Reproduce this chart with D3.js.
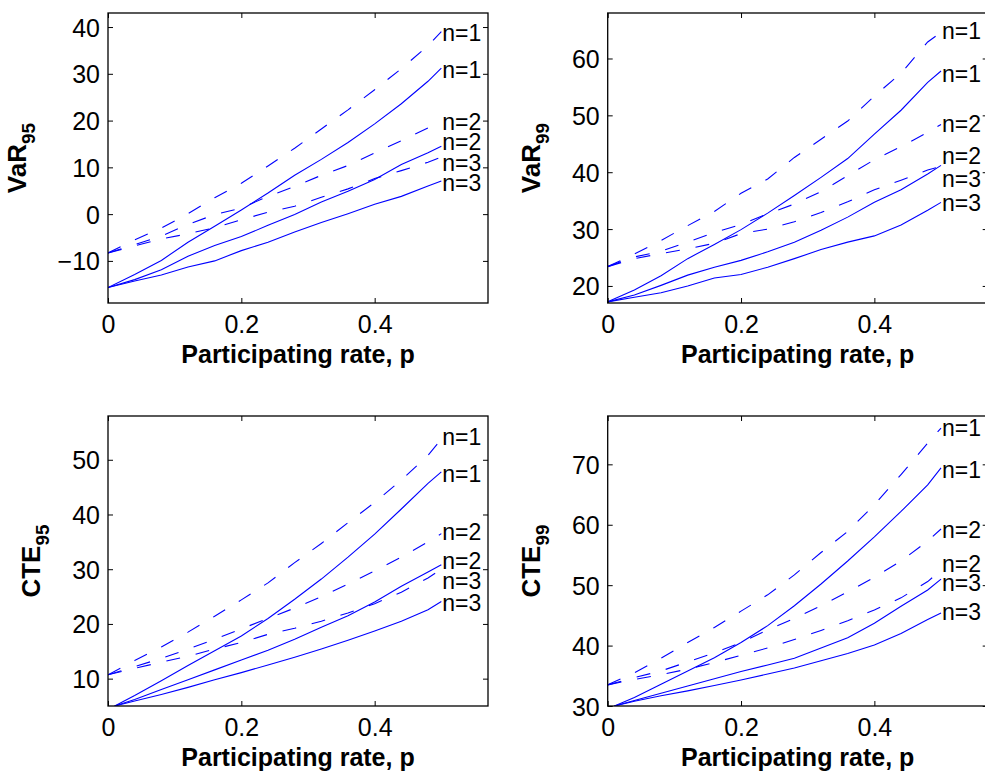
<!DOCTYPE html>
<html>
<head>
<meta charset="utf-8">
<script src="https://cdn.jsdelivr.net/npm/d3@7"></script>
<style>
  body { margin: 0; background: #fff; }
  svg { display: block; font-family: "Liberation Sans", Arial, Helvetica, sans-serif; }
</style>
</head>
<body>
<svg id="chart" width="985" height="778"></svg>
<script>
// participating rate grid (solid CTE curves start at p = 0.01)
var pGrid = [0, 0.04, 0.08, 0.12, 0.16, 0.2, 0.24, 0.28, 0.32, 0.36, 0.4, 0.44, 0.48, 0.5];
var pGridCte = [0.01, 0.04, 0.08, 0.12, 0.16, 0.2, 0.24, 0.28, 0.32, 0.36, 0.4, 0.44, 0.48, 0.5];
var xTicks = [0, 0.2, 0.4];

// VaR 95
var var95Dash1 = [-8.3, -5.5, -3.0, 0.1, 3.5, 6.6, 10.3, 14.1, 18.2, 22.3, 26.6, 31.1, 36.0, 39.0];
var var95Solid1 = [-15.7, -12.9, -9.9, -6.0, -2.6, 0.9, 4.5, 8.3, 11.7, 15.3, 19.3, 23.6, 28.4, 31.2];
var var95Dash2 = [-8.3, -6.5, -4.7, -2.2, -0.1, 1.3, 3.8, 5.9, 8.3, 10.4, 13.1, 15.7, 18.4, 19.7];
var var95Solid2 = [-15.7, -14.0, -11.9, -9.0, -6.7, -4.8, -2.4, -0.1, 2.6, 4.9, 7.4, 10.6, 13.1, 14.5];
var var95Dash3 = [-8.3, -6.8, -5.3, -4.2, -2.9, -1.2, 0.4, 1.7, 3.6, 5.4, 7.6, 9.3, 11.1, 12.2];
var var95Solid3 = [-15.7, -14.3, -13.0, -11.3, -10.0, -7.8, -6.0, -3.8, -1.8, 0.1, 2.1, 3.8, 6.0, 7.1];
var var95Ticks = [-10, 0, 10, 20, 30, 40];
var var95LabelY = [38.8, 30.9, 19.7, 15.4, 11.0, 6.7];

// VaR 99
var var99Dash1 = [23.4, 25.6, 28.0, 30.6, 33.1, 36.3, 38.8, 42.6, 45.8, 49.0, 53.4, 57.4, 62.9, 64.6];
var var99Solid1 = [17.2, 19.3, 21.8, 24.8, 27.3, 29.9, 32.8, 35.9, 39.1, 42.4, 46.7, 50.9, 55.8, 57.8];
var var99Dash2 = [23.4, 25.1, 26.1, 27.7, 29.4, 30.8, 32.7, 34.4, 36.6, 39.4, 42.2, 44.5, 47.0, 48.4];
var var99Solid2 = [17.2, 18.4, 20.1, 21.9, 23.3, 24.5, 26.0, 27.7, 29.8, 32.1, 34.7, 36.9, 39.7, 41.2];
var var99Dash3 = [23.4, 24.8, 25.7, 26.5, 27.5, 29.2, 30.0, 31.3, 32.9, 34.8, 36.9, 38.6, 40.4, 41.0];
var var99Solid3 = [17.2, 18.0, 18.8, 20.0, 21.4, 22.0, 23.3, 24.8, 26.4, 27.7, 28.8, 30.7, 33.3, 34.7];
var var99Ticks = [20, 30, 40, 50, 60];
var var99LabelY = [64.9, 57.4, 48.5, 42.9, 38.8, 34.7];

// CTE 95
var cte95Dash1 = [10.7, 13.3, 15.8, 18.5, 21.4, 24.4, 27.5, 31.2, 34.7, 38.5, 42.2, 46.3, 50.8, 53.8];
var cte95Solid1 = [5.0, 6.9, 9.6, 12.4, 15.1, 17.8, 21.0, 24.5, 28.2, 32.2, 36.4, 41.0, 45.7, 47.8];
var cte95Dash2 = [10.7, 12.2, 13.7, 15.4, 17.2, 19.1, 21.0, 22.9, 25.0, 27.3, 29.7, 32.2, 35.0, 36.5];
var cte95Solid2 = [5.0, 6.2, 8.0, 9.8, 11.6, 13.4, 15.2, 17.2, 19.4, 21.5, 24.0, 26.9, 29.5, 30.8];
var cte95Dash3 = [10.7, 11.9, 13.0, 14.1, 15.4, 16.6, 18.1, 19.2, 20.5, 22.0, 23.7, 25.8, 28.4, 30.0];
var cte95Solid3 = [5.0, 5.9, 7.1, 8.4, 9.8, 11.1, 12.5, 13.9, 15.4, 17.0, 18.7, 20.5, 22.6, 24.1];
var cte95Ticks = [10, 20, 30, 40, 50];
var cte95LabelY = [54.2, 47.5, 36.8, 31.6, 27.9, 23.9];

// CTE 99
var cte99Dash1 = [33.5, 35.5, 37.9, 40.5, 43.0, 45.7, 48.4, 51.7, 55.4, 58.9, 63.3, 68.3, 73.5, 76.0];
var cte99Solid1 = [30.0, 31.4, 33.6, 35.8, 38.0, 40.5, 43.3, 46.6, 50.2, 54.0, 58.0, 62.2, 66.6, 69.4];
var cte99Dash2 = [33.5, 34.7, 35.8, 37.3, 38.8, 40.5, 42.6, 44.5, 46.6, 48.9, 51.3, 54.0, 57.3, 59.3];
var cte99Solid2 = [30.0, 30.9, 32.1, 33.3, 34.5, 35.7, 36.8, 37.9, 39.6, 41.3, 43.7, 46.5, 49.2, 51.0];
var cte99Dash3 = [33.5, 34.4, 35.2, 36.1, 37.2, 38.4, 39.6, 41.0, 42.5, 44.1, 45.9, 47.9, 50.6, 52.5];
var cte99Solid3 = [30.0, 30.8, 31.7, 32.5, 33.4, 34.3, 35.3, 36.3, 37.5, 38.7, 40.1, 42.0, 44.3, 45.4];
var cte99Ticks = [30, 40, 50, 60, 70];
var cte99LabelY = [76.0, 69.1, 59.2, 53.6, 50.4, 45.6];

var labelText = ['n=1', 'n=1', 'n=2', 'n=2', 'n=3', 'n=3'];

var panels = [
  { id: 'va95', left: 108, top: 13, yDomain: [-19, 43], yTicks: var95Ticks, name: 'VaR', sub: '95',
    dashed: [var95Dash1, var95Dash2, var95Dash3], solid: [var95Solid1, var95Solid2, var95Solid3],
    solidP: pGrid, labelY: var95LabelY },
  { id: 'va99', left: 607.7, top: 13, yDomain: [17, 68], yTicks: var99Ticks, name: 'VaR', sub: '99',
    dashed: [var99Dash1, var99Dash2, var99Dash3], solid: [var99Solid1, var99Solid2, var99Solid3],
    solidP: pGrid, labelY: var99LabelY },
  { id: 'ct95', left: 108, top: 416, yDomain: [5, 58], yTicks: cte95Ticks, name: 'CTE', sub: '95',
    dashed: [cte95Dash1, cte95Dash2, cte95Dash3], solid: [cte95Solid1, cte95Solid2, cte95Solid3],
    solidP: pGridCte, labelY: cte95LabelY },
  { id: 'ct99', left: 607.7, top: 416, yDomain: [30, 78], yTicks: cte99Ticks, name: 'CTE', sub: '99',
    dashed: [cte99Dash1, cte99Dash2, cte99Dash3], solid: [cte99Solid1, cte99Solid2, cte99Solid3],
    solidP: pGridCte, labelY: cte99LabelY }
];

var W = 380, H = 290, TICK = 5;
var fontSize = 25;
var svg = d3.select('#chart');

panels.forEach(function (pn) {
  var x = d3.scaleLinear().domain([0, 0.57]).range([0, W]);
  var y = d3.scaleLinear().domain(pn.yDomain).range([H, 0]);

  var g = svg.append('g').attr('transform', 'translate(' + pn.left + ',' + pn.top + ')');

  g.append('clipPath').attr('id', 'clip-' + pn.id)
    .append('rect').attr('width', W).attr('height', H);

  var plot = g.append('g').attr('clip-path', 'url(#clip-' + pn.id + ')');

  var line = function (px) {
    return d3.line().x(function (d, i) { return x(px[i]); }).y(function (d) { return y(d); });
  };

  pn.dashed.forEach(function (s) {
    plot.append('path').attr('d', line(pGrid)(s))
      .attr('fill', 'none').attr('stroke', '#0000ff').attr('stroke-width', 1.1)
      .attr('stroke-dasharray', '14,16');
  });
  pn.solid.forEach(function (s) {
    plot.append('path').attr('d', line(pn.solidP)(s))
      .attr('fill', 'none').attr('stroke', '#0000ff').attr('stroke-width', 1.1);
  });

  // axes: inward ticks on all four sides, like a boxed matlab plot
  var ax = function (axis) { return axis.tickSizeInner(-TICK).tickSizeOuter(0); };
  var bottom = g.append('g').attr('transform', 'translate(0,' + H + ')')
    .call(ax(d3.axisBottom(x).tickValues(xTicks).tickFormat(d3.format('~g'))));
  var top = g.append('g').call(ax(d3.axisTop(x).tickValues(xTicks)).tickFormat(''));
  var left = g.append('g').call(ax(d3.axisLeft(y).tickValues(pn.yTicks)));
  var right = g.append('g').attr('transform', 'translate(' + W + ',0)')
    .call(ax(d3.axisRight(y).tickValues(pn.yTicks)).tickFormat(''));

  [bottom, top, left, right].forEach(function (a) {
    a.select('.domain').remove();
    a.selectAll('line').attr('stroke', '#000').attr('stroke-width', 1);
    a.selectAll('text').attr('fill', '#000').style('font-size', fontSize + 'px');
  });
  bottom.selectAll('text').attr('y', 0).attr('dy', 0).attr('transform', 'translate(0,30)');
  left.selectAll('text').attr('x', -8).attr('dy', '0.36em');

  g.append('rect').attr('width', W).attr('height', H)
    .attr('fill', 'none').attr('stroke', '#000').attr('stroke-width', 1.3);

  // curve labels
  g.selectAll('text.nlab').data(pn.labelY).enter().append('text')
    .attr('class', 'nlab')
    .attr('x', x(0.5) + 1)
    .attr('y', function (d) { return y(d); })
    .attr('dy', '0.36em')
    .style('font-size', '23px')
    .text(function (d, i) { return labelText[i]; });

  g.append('text')
    .attr('x', W / 2).attr('y', H + 60)
    .attr('text-anchor', 'middle')
    .style('font-size', fontSize + 'px').style('font-weight', 'bold')
    .text('Participating rate, p');

  // ylabel sits just left of the widest tick label
  var tickW = left.node().getBBox().width;
  var yl = g.append('text')
    .attr('transform', 'translate(' + (-(tickW + 27)) + ',' + (H / 2) + ') rotate(-90)')
    .attr('text-anchor', 'middle')
    .style('font-size', '26px').style('font-weight', 'bold');
  yl.append('tspan').text(pn.name);
  yl.append('tspan').attr('dy', 9).style('font-size', '19px').text(pn.sub);
});
</script>
</body>
</html>
